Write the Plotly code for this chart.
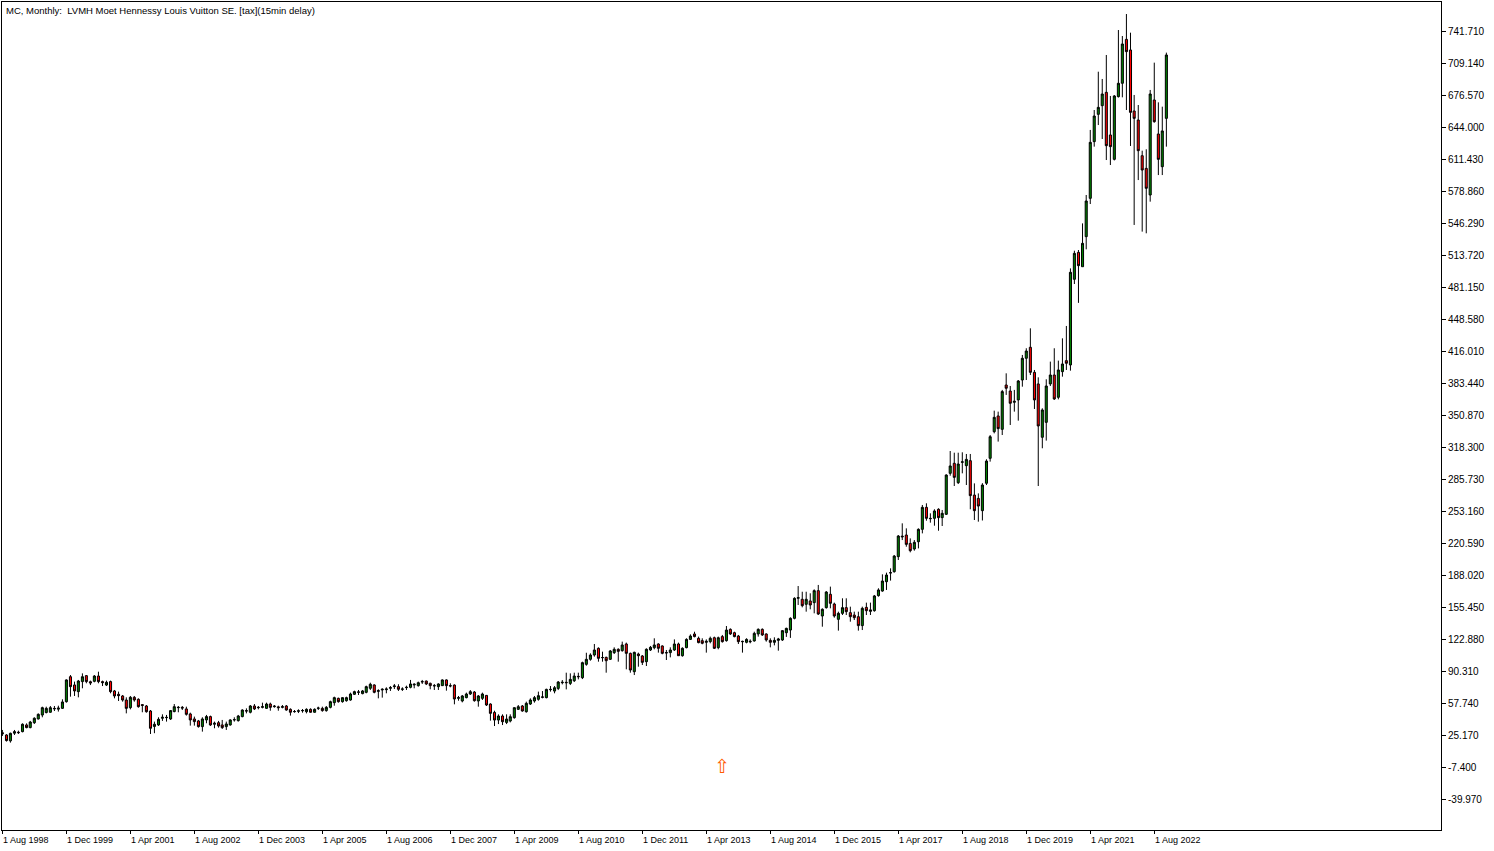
import pandas as pd
import plotly.graph_objects as go

# ---- data (monthly candles, Aug 1998 .. Nov 2022) ----
start_month = "1998-08-01"
n_months = 292

open_ = [27.5, 25.2, 19.2, 27.0, 28.0, 28.6, 35.4, 32.7, 37.7, 41.5,
         45.5, 48.0, 48.3, 51.7, 51.5, 52.3, 59.1, 84.5, 76.1, 69.3,
         79.5, 85.6, 79.4, 79.8, 85.2, 79.5, 76.0, 79.5, 70.0, 66.6,
         64.9, 60.8, 53.0, 63.5, 61.5, 56.1, 54.7, 49.6, 33.9, 35.4,
         42.2, 43.2, 41.5, 49.0, 53.0, 53.3, 51.7, 46.6, 41.5, 39.5,
         33.7, 40.5, 43.9, 36.1, 37.7, 35.4, 33.7, 35.4, 40.5, 39.8,
         43.9, 50.0, 48.3, 54.7, 53.0, 53.3, 52.3, 56.7, 54.0, 53.8,
         53.3, 54.7, 51.3, 48.9, 49.3, 49.8, 48.9, 51.3, 48.3, 52.3,
         52.3, 50.0, 53.3, 58.1, 62.5, 59.1, 60.1, 60.8, 66.6, 68.6,
         67.3, 68.6, 72.7, 76.1, 69.6, 71.0, 71.3, 72.7, 74.4, 74.4,
         71.7, 73.4, 73.7, 76.1, 75.4, 79.1, 80.1, 77.8, 75.1, 74.4,
         75.4, 81.2, 75.4, 76.0, 62.5, 59.8, 63.2, 66.9, 68.9, 59.8,
         62.5, 65.5, 56.7, 48.2, 40.4, 44.5, 38.0, 39.4, 42.8, 51.3,
         54.7, 48.9, 56.7, 59.8, 61.5, 63.5, 63.2, 71.3, 69.9, 72.6,
         78.4, 78.8, 77.7, 80.4, 84.9, 83.5, 97.1, 102.2, 106.6, 113.4,
         103.9, 104.2, 102.2, 109.0, 112.4, 111.0, 117.8, 108.3, 89.6, 107.6,
         105.6, 99.8, 111.7, 114.0, 117.8, 115.8, 108.6, 109.0, 111.7, 117.8,
         105.9, 114.1, 122.5, 128.0, 123.6, 121.2, 119.5, 120.2, 124.2, 114.1,
         125.3, 121.2, 132.7, 129.3, 125.9, 120.5, 119.5, 120.0, 120.9, 128.0,
         132.7, 128.0, 121.5, 119.5, 121.5, 121.9, 129.3, 132.0, 143.9, 164.3,
         163.3, 158.2, 161.6, 159.9, 172.1, 146.3, 154.8, 168.4, 158.5, 142.9,
         149.0, 154.8, 149.7, 147.3, 145.6, 136.5, 155.1, 151.0, 151.7, 167.0,
         171.7, 181.2, 190.0, 191.4, 206.7, 226.7, 228.7, 220.2, 214.5, 221.9,
         234.5, 256.9, 245.7, 245.7, 254.9, 246.4, 249.8, 291.5, 301.7, 282.0,
         302.7, 299.3, 304.4, 269.4, 266.0, 253.5, 281.4, 306.8, 333.9, 349.9,
         336.3, 381.4, 375.3, 363.8, 366.2, 386.5, 408.6, 419.8, 394.3, 382.5,
         328.2, 343.4, 382.5, 391.6, 368.9, 395.0, 406.2, 401.8, 489.0, 516.4,
         501.8, 532.4, 571.4, 629.1, 656.9, 665.7, 679.3, 635.9, 611.1, 674.9,
         688.5, 733.2, 722.4, 660.3, 651.1, 614.8, 601.9, 574.8, 671.5, 636.9,
         603.6, 652.8]

high_ = [30.3, 26.0, 27.6, 30.3, 29.6, 37.0, 37.0, 39.5, 43.2, 47.2,
         54.0, 54.0, 54.7, 54.7, 55.0, 61.5, 81.8, 86.2, 79.5, 81.2,
         87.9, 86.2, 80.5, 86.2, 89.6, 80.5, 80.5, 80.5, 71.0, 69.3,
         65.9, 63.5, 64.9, 64.9, 62.5, 56.4, 55.7, 50.6, 38.8, 43.2,
         46.2, 45.6, 50.6, 56.7, 54.7, 54.7, 54.0, 47.9, 43.9, 40.5,
         43.2, 45.6, 44.9, 38.8, 39.5, 40.5, 38.8, 41.2, 43.2, 45.6,
         51.3, 52.3, 55.7, 56.7, 54.7, 58.1, 58.1, 58.1, 55.7, 55.0,
         55.7, 55.7, 52.3, 50.6, 51.3, 51.6, 52.3, 52.3, 52.3, 54.0,
         54.0, 54.7, 60.1, 64.2, 63.2, 63.5, 64.2, 68.3, 70.3, 71.0,
         71.0, 75.4, 78.4, 76.8, 71.7, 72.7, 73.7, 75.0, 77.1, 76.8,
         73.7, 75.4, 81.2, 77.8, 79.5, 81.2, 80.5, 78.4, 77.1, 77.8,
         81.8, 81.8, 77.8, 76.7, 64.9, 65.9, 68.3, 70.9, 69.9, 65.9,
         68.3, 65.9, 57.4, 49.9, 46.2, 46.2, 46.2, 46.2, 53.3, 55.7,
         55.7, 59.1, 62.5, 64.9, 69.3, 69.9, 72.3, 75.0, 75.0, 80.1,
         81.1, 88.6, 87.9, 88.6, 88.6, 99.8, 108.9, 108.3, 117.8, 114.4,
         110.0, 104.9, 111.7, 114.4, 113.4, 120.2, 119.2, 109.0, 110.0, 109.0,
         106.6, 113.4, 115.8, 123.6, 118.5, 116.4, 111.7, 114.4, 122.5, 119.2,
         114.4, 123.6, 127.6, 130.3, 125.3, 123.6, 122.5, 125.3, 125.3, 125.3,
         127.0, 136.1, 133.7, 130.3, 127.0, 121.2, 123.6, 122.5, 130.3, 133.7,
         133.7, 128.6, 123.6, 124.6, 124.0, 132.0, 134.4, 145.0, 165.3, 176.8,
         171.0, 171.0, 169.4, 173.4, 177.9, 154.1, 171.7, 176.2, 159.9, 150.7,
         164.3, 164.3, 155.8, 150.7, 150.7, 155.8, 159.9, 159.9, 167.7, 174.5,
         188.7, 190.4, 194.8, 208.4, 228.7, 240.6, 235.5, 225.3, 223.6, 235.5,
         259.3, 261.0, 250.8, 254.9, 255.9, 254.2, 290.5, 314.2, 312.5, 312.5,
         312.9, 311.2, 311.2, 281.3, 271.1, 281.5, 305.8, 330.5, 355.3, 354.3,
         376.4, 393.3, 380.4, 376.4, 386.5, 412.0, 418.8, 439.1, 396.7, 389.2,
         357.7, 387.2, 405.2, 418.8, 406.2, 428.9, 441.5, 500.1, 518.1, 518.8,
         545.9, 574.8, 641.0, 661.3, 700.3, 692.9, 717.3, 675.6, 676.5, 742.7,
         736.6, 759.0, 740.0, 676.6, 666.4, 619.9, 621.3, 681.7, 709.5, 669.1,
         664.7, 719.7]

low_ = [24.2, 18.5, 17.4, 25.2, 26.2, 27.9, 32.0, 32.0, 36.4, 41.0,
        43.2, 47.2, 47.9, 49.6, 49.0, 51.7, 58.1, 64.2, 64.9, 63.5,
        72.7, 77.8, 76.0, 78.8, 77.8, 75.0, 75.0, 67.6, 62.5, 59.8,
        59.1, 47.2, 51.3, 59.1, 53.0, 48.3, 47.9, 26.2, 27.0, 34.4,
        39.5, 38.8, 40.5, 48.3, 48.3, 50.6, 44.9, 34.7, 34.7, 32.7,
        28.6, 37.1, 34.4, 32.0, 32.7, 31.3, 30.3, 34.7, 38.8, 38.8,
        43.2, 47.2, 47.2, 50.6, 51.3, 52.3, 51.7, 49.9, 53.0, 49.9,
        52.3, 49.9, 44.9, 47.9, 47.5, 47.9, 47.2, 47.9, 47.9, 50.6,
        48.9, 48.9, 52.3, 55.0, 58.1, 58.1, 59.1, 60.1, 65.9, 65.9,
        66.6, 67.6, 71.0, 67.6, 62.5, 63.2, 67.6, 70.0, 72.0, 70.0,
        70.0, 71.0, 72.7, 72.7, 74.4, 77.1, 76.0, 71.7, 71.0, 71.0,
        75.1, 70.3, 73.7, 56.4, 60.1, 58.4, 62.5, 65.9, 59.1, 54.0,
        60.8, 54.7, 39.8, 34.3, 36.3, 35.3, 36.3, 38.0, 41.8, 50.6,
        48.9, 47.9, 55.7, 58.1, 60.1, 62.5, 62.5, 69.3, 67.6, 70.9,
        76.7, 71.6, 76.0, 79.1, 81.8, 82.1, 95.7, 100.8, 104.9, 99.8,
        99.8, 88.6, 101.5, 107.6, 99.8, 110.0, 92.0, 88.6, 86.2, 94.7,
        96.4, 95.4, 110.7, 112.4, 109.0, 107.3, 101.5, 104.2, 110.7, 105.6,
        104.9, 113.4, 121.9, 124.6, 118.5, 117.5, 109.0, 118.5, 112.7, 112.4,
        119.2, 120.2, 127.0, 124.6, 117.8, 109.0, 118.5, 118.5, 120.2, 125.3,
        126.0, 120.2, 114.4, 116.4, 111.0, 120.9, 125.0, 124.0, 142.9, 157.5,
        155.1, 150.7, 153.1, 149.0, 147.3, 135.4, 153.8, 154.1, 144.6, 131.4,
        147.3, 147.3, 140.5, 142.2, 131.4, 132.0, 147.3, 147.3, 150.7, 166.0,
        171.0, 172.8, 182.3, 190.4, 203.3, 223.6, 216.8, 211.1, 212.8, 215.1,
        230.4, 243.3, 241.3, 238.2, 233.1, 237.9, 249.1, 289.1, 278.6, 280.6,
        291.5, 279.6, 254.9, 244.0, 242.3, 243.5, 279.6, 303.4, 332.2, 323.8,
        330.5, 371.3, 340.7, 354.3, 345.1, 379.7, 386.5, 391.6, 357.0, 278.6,
        317.0, 324.8, 380.4, 366.2, 366.8, 389.9, 396.7, 396.0, 484.2, 465.0,
        501.8, 519.5, 565.6, 624.0, 646.0, 631.8, 610.4, 605.3, 610.0, 674.0,
        674.2, 661.3, 624.7, 544.3, 590.0, 537.5, 535.8, 568.0, 648.4, 595.1,
        595.1, 624.0]

close_ = [26.5, 19.5, 26.9, 28.6, 27.6, 36.1, 32.7, 38.4, 42.2, 46.2,
          53.0, 52.3, 53.0, 52.2, 52.5, 58.8, 81.2, 74.4, 70.0, 80.1,
          84.5, 79.5, 78.1, 85.2, 79.5, 78.5, 78.8, 69.3, 64.9, 65.2,
          60.8, 52.3, 63.5, 60.8, 54.0, 55.3, 48.9, 32.0, 36.1, 41.2,
          43.2, 42.9, 50.0, 54.0, 53.3, 52.6, 46.2, 40.5, 38.8, 33.7,
          41.5, 43.9, 35.4, 37.1, 34.4, 32.7, 36.4, 40.5, 40.8, 44.5,
          50.6, 49.6, 54.7, 51.7, 53.3, 54.0, 56.7, 53.3, 54.5, 53.0,
          54.0, 50.6, 48.3, 49.1, 49.8, 50.1, 51.3, 48.3, 51.3, 52.6,
          50.0, 53.3, 59.1, 63.2, 59.1, 63.2, 63.2, 66.9, 69.3, 69.0,
          70.0, 74.4, 76.8, 68.6, 70.3, 71.7, 72.0, 73.4, 75.1, 71.7,
          72.0, 73.7, 77.1, 76.8, 78.4, 79.5, 77.1, 75.4, 75.4, 77.1,
          81.2, 75.4, 75.1, 61.8, 63.2, 64.9, 66.9, 69.3, 60.1, 64.9,
          66.9, 55.7, 47.2, 40.4, 44.5, 38.7, 41.4, 43.8, 53.0, 54.0,
          49.6, 57.4, 60.8, 63.2, 65.2, 63.9, 71.6, 71.6, 73.3, 79.1,
          78.8, 78.4, 81.8, 85.2, 84.5, 98.8, 102.2, 106.6, 111.7, 103.2,
          104.0, 100.8, 110.7, 112.4, 110.3, 116.8, 108.3, 91.3, 109.3, 105.9,
          99.1, 112.4, 114.4, 116.8, 113.4, 108.3, 109.0, 111.7, 117.8, 105.9,
          113.4, 122.5, 125.9, 125.3, 119.2, 118.5, 120.5, 123.6, 113.4, 124.2,
          120.2, 132.0, 128.0, 125.3, 120.2, 120.2, 122.5, 120.5, 128.6, 132.7,
          127.0, 121.9, 119.5, 121.5, 122.9, 131.4, 133.7, 143.9, 164.3, 165.0,
          156.8, 163.3, 157.5, 172.1, 148.3, 153.1, 170.7, 159.2, 146.3, 149.0,
          154.8, 150.7, 145.6, 144.6, 136.5, 154.1, 151.7, 152.5, 166.7, 172.8,
          181.9, 188.0, 190.4, 207.3, 227.7, 227.4, 219.2, 212.8, 221.3, 234.5,
          256.9, 245.7, 245.4, 253.2, 246.4, 250.8, 289.8, 299.0, 287.4, 301.0,
          303.2, 305.7, 268.8, 253.5, 258.2, 279.6, 304.0, 328.8, 348.5, 337.0,
          374.7, 378.1, 362.8, 364.8, 385.5, 408.6, 416.0, 394.3, 366.2, 339.7,
          356.0, 380.4, 391.6, 367.2, 396.7, 402.8, 403.5, 496.1, 515.4, 502.9,
          525.6, 568.7, 628.4, 655.2, 664.0, 677.6, 625.0, 624.0, 675.6, 688.5,
          728.5, 720.7, 658.9, 652.8, 619.9, 600.2, 581.6, 677.6, 649.4, 611.1,
          640.0, 717.3]

x_label_dates = ["1998-08-01", "1999-12-01", "2001-04-01", "2002-08-01", "2003-12-01",
                 "2005-04-01", "2006-08-01", "2007-12-01", "2009-04-01", "2010-08-01",
                 "2011-12-01", "2013-04-01", "2014-08-01", "2015-12-01", "2017-04-01",
                 "2018-08-01", "2019-12-01", "2021-04-01", "2022-08-01"]
x_label_text = ["1 Aug 1998", "1 Dec 1999", "1 Apr 2001", "1 Aug 2002", "1 Dec 2003",
                "1 Apr 2005", "1 Aug 2006", "1 Dec 2007", "1 Apr 2009", "1 Aug 2010",
                "1 Dec 2011", "1 Apr 2013", "1 Aug 2014", "1 Dec 2015", "1 Apr 2017",
                "1 Aug 2018", "1 Dec 2019", "1 Apr 2021", "1 Aug 2022"]

y_tick_vals = [741.71, 709.14, 676.57, 644.00, 611.43, 578.86, 546.29, 513.72, 481.15,
               448.58, 416.01, 383.44, 350.87, 318.30, 285.73, 253.16, 220.59, 188.02,
               155.45, 122.88, 90.31, 57.74, 25.17, -7.40, -39.97]
y_tick_text = ["741.710", "709.140", "676.570", "644.000", "611.430", "578.860", "546.290",
               "513.720", "481.150", "448.580", "416.010", "383.440", "350.870", "318.300",
               "285.730", "253.160", "220.590", "188.020", "155.450", "122.880", "90.310",
               "57.740", "25.170", "-7.400", "-39.970"]

title_text = "MC, Monthly:  LVMH Moet Hennessy Louis Vuitton SE. [tax](15min delay)"
arrow_date = "2013-08-01"
arrow_value = -6.4

# ---- figure ----
dates = pd.date_range(start_month, periods=n_months, freq="MS")
hi = [max(h, o, c) for h, o, c in zip(high_, open_, close_)]
lo = [min(l, o, c) for l, o, c in zip(low_, open_, close_)]

FONT = "Liberation Sans, Arial, sans-serif"

fig = go.Figure()
fig.add_trace(go.Candlestick(
    x=dates, open=open_, high=hi, low=lo, close=close_,
    increasing=dict(line=dict(color="black", width=1), fillcolor="#008000"),
    decreasing=dict(line=dict(color="black", width=1), fillcolor="#ff0000"),
    whiskerwidth=0, showlegend=False, hoverinfo="x+y",
))

fig.add_annotation(x=arrow_date, y=arrow_value, text="⇧", showarrow=False,
                   font=dict(family="DejaVu Sans", size=19, color="#ff5a00"),
                   xanchor="center", yanchor="middle")

for d, t in zip(x_label_dates, x_label_text):
    fig.add_annotation(x=d, y=0, xref="x", yref="paper", yanchor="top", xanchor="left",
                       yshift=-3, xshift=-1, text=t, showarrow=False,
                       font=dict(family=FONT, size=9, color="black"))

fig.add_annotation(x=0, y=1, xref="paper", yref="paper", xanchor="left", yanchor="top",
                   xshift=2, yshift=-1, text=title_text, showarrow=False,
                   font=dict(family=FONT, size=9.5, color="black"))

fig.update_layout(
    width=1494, height=851,
    margin=dict(l=2, r=53, t=2, b=21, pad=0),
    paper_bgcolor="white", plot_bgcolor="white",
    boxgap=0.2,
    font=dict(family=FONT, size=10, color="black"),
)
fig.update_xaxes(
    type="date", range=["1998-07-29", "2028-07-22"],
    rangeslider=dict(visible=False),
    showgrid=False, zeroline=False,
    showline=True, linecolor="black", linewidth=1, mirror=True,
    tickmode="array", tickvals=x_label_dates, ticktext=[""] * len(x_label_dates),
    ticks="outside", ticklen=3, tickcolor="black", tickwidth=1,
)
fig.update_yaxes(
    side="right", range=[-71.52, 771.23],
    showgrid=False, zeroline=False,
    showline=True, linecolor="black", linewidth=1, mirror=True,
    tickmode="array", tickvals=y_tick_vals, ticktext=y_tick_text,
    ticks="outside", ticklen=4, tickcolor="black", tickwidth=1,
    tickfont=dict(family=FONT, size=10, color="black"),
)

fig.write_html("out.html")
